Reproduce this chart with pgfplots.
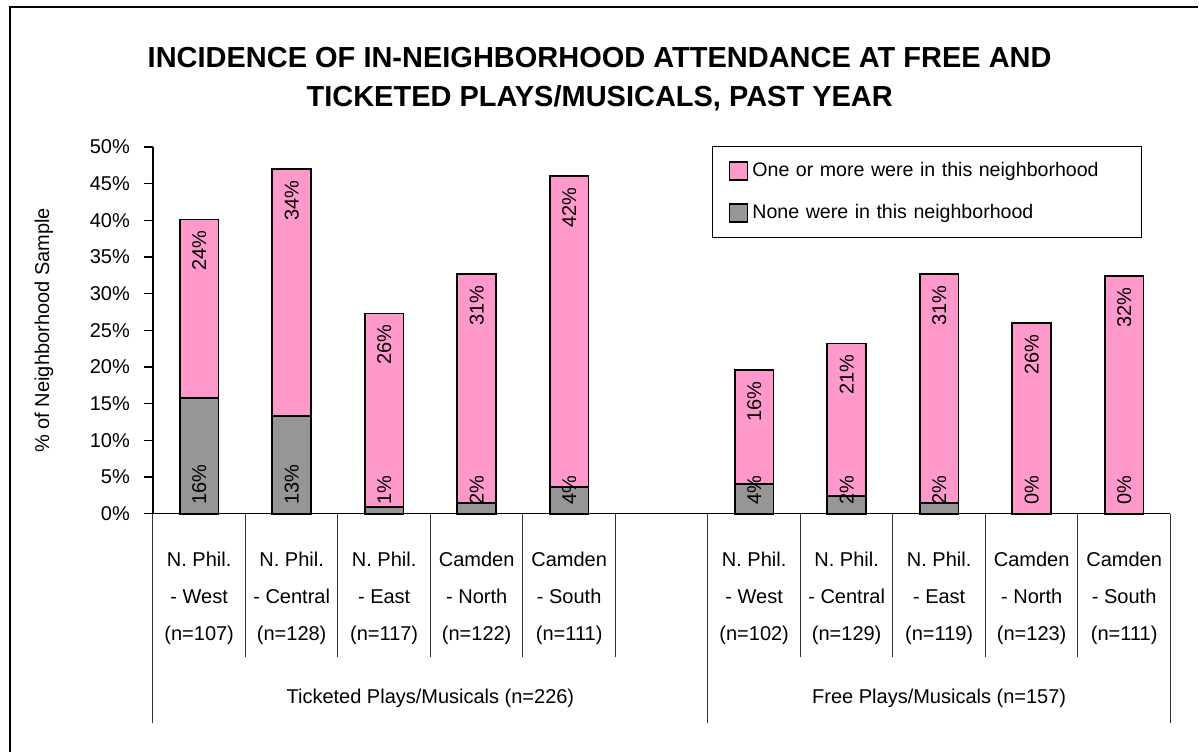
\documentclass[border=0pt]{standalone}
\usepackage{fontspec}
\setmainfont{Liberation Sans}
\usepackage{pgfplots}
\pgfplotsset{compat=1.18}
\usepackage{pgfplotstable}

\definecolor{barpink}{RGB}{255,153,204}
\definecolor{bargray}{RGB}{150,150,150}

% x: slot (5 is the empty gap between the two groups)
\pgfplotstableread{
x  base none one  total nonelab onelab
0  0    15.8 24.3 40.1  16 24
1  0    13.3 33.7 47.0  13 34
2  0    0.9  26.4 27.3  1  26
3  0    1.5  31.2 32.7  2  31
4  0    3.6  42.4 46.0  4  42
6  0    4.0  15.6 19.6  4  16
7  0    2.4  20.8 23.2  2  21
8  0    1.5  31.2 32.7  2  31
9  0    0.0  26.0 26.0  0  26
10 0    0.0  32.4 32.4  0  32
}\datatable

\pgfplotsset{
  chartbox/.style={
    at={(76.5pt,-257pt)}, anchor=south west,
    scale only axis, width=509pt, height=183.5pt,
    xmin=-0.5, xmax=10.5, ymin=0, ymax=50, clip=false,
  },
}

\begin{document}
\begin{tikzpicture}
\path (0pt,0pt) rectangle (599.5pt,-376pt);
\draw[line width=0.6pt] (5pt,-376pt) -- (5pt,-3.5pt) -- (599.5pt,-3.5pt);

\node[anchor=base, font=\bfseries\fontsize{14.5}{17}\selectfont] at (300pt,-34pt)
  {INCIDENCE OF IN-NEIGHBORHOOD ATTENDANCE AT FREE AND};
\node[anchor=base, font=\bfseries\fontsize{14.5}{17}\selectfont] at (300pt,-53.5pt)
  {TICKETED PLAYS/MUSICALS, PAST YEAR};
\node[rotate=90, font=\fontsize{10}{12}\selectfont] at (22pt,-165.25pt)
  {\% of Neighborhood Sample};

\begin{axis}[
  chartbox,
  ybar stacked, bar width=0.42,
  axis x line*=bottom, axis y line*=left,
  axis line style={-, line width=0.6pt},
  ytick={0,5,...,50},
  yticklabel={\pgfmathprintnumber{\tick}\%},
  y tick label style={font=\fontsize{10}{12}\selectfont, xshift=-3.5pt},
  y tick style={line width=0.6pt, black},
  tick align=outside, major tick length=4.5pt,
  xtick={0,1,2,3,4,6,7,8,9,10},
  xticklabels={
    {N. Phil.\\- West\\(n=107)}, {N. Phil.\\- Central\\(n=128)},
    {N. Phil.\\- East\\(n=117)}, {Camden\\- North\\(n=122)},
    {Camden\\- South\\(n=111)},
    {N. Phil.\\- West\\(n=102)}, {N. Phil.\\- Central\\(n=129)},
    {N. Phil.\\- East\\(n=119)}, {Camden\\- North\\(n=123)},
    {Camden\\- South\\(n=111)}},
  x tick style={draw=none},
  xticklabel style={align=center, font=\fontsize{10}{18.5}\selectfont, yshift=-11pt},
  /pgf/number format/assume math mode=true,
  reverse legend,
  legend cell align=left,
  legend style={at={(axis cs:10.19,50.15)}, anchor=north east,
    draw=black, line width=0.5pt, font=\fontsize{9.8}{12}\selectfont,
    row sep=8.5pt, inner ysep=6pt, inner xsep=8pt,
    /tikz/every even column/.append style={text width=184.5pt}},
  legend image code/.code={\draw[#1, draw=black, line width=0.8pt] (0pt,-4.5pt) rectangle (9pt,4.5pt);},
]
\addplot[fill=bargray, draw=black, line width=0.9pt]
  table[x=x, y=none] {\datatable};
\addplot[fill=barpink, draw=black, line width=0.9pt]
  table[x=x, y=one] {\datatable};
\legend{None were in this neighborhood, One or more were in this neighborhood}

\pgfplotsinvokeforeach{0.5,1.5,2.5,3.5,4.5,6.5,7.5,8.5,9.5}{
  \draw[line width=0.5pt, black!80] (axis cs:#1,0) -- ++(0pt,-71.5pt);
}
\pgfplotsinvokeforeach{-0.5,5.5,10.5}{
  \draw[line width=0.5pt, black!80] (axis cs:#1,0) -- ++(0pt,-104.5pt);
}
\node[font=\fontsize{10}{12}\selectfont] at (axis cs:2.5,0) [yshift=-92.5pt]
  {Ticketed Plays/Musicals (n=226)};
\node[font=\fontsize{10}{12}\selectfont] at (axis cs:8,0) [yshift=-92.5pt]
  {Free Plays/Musicals (n=157)};
\end{axis}

% value labels, drawn over the bars
\begin{axis}[chartbox, hide axis]
\addplot[only marks, mark=none,
  nodes near coords={\pgfplotspointmeta\%}, point meta=explicit symbolic,
  every node near coord/.append style={rotate=90, anchor=west, inner sep=4.5pt,
    font=\fontsize{10}{12}\selectfont}]
  table[x=x, y=base, meta=nonelab] {\datatable};
\addplot[only marks, mark=none,
  nodes near coords={\pgfplotspointmeta\%}, point meta=explicit symbolic,
  every node near coord/.append style={rotate=90, anchor=east, inner sep=5.5pt,
    font=\fontsize{10}{12}\selectfont}]
  table[x=x, y=total, meta=onelab] {\datatable};
\end{axis}
\end{tikzpicture}
\end{document}
